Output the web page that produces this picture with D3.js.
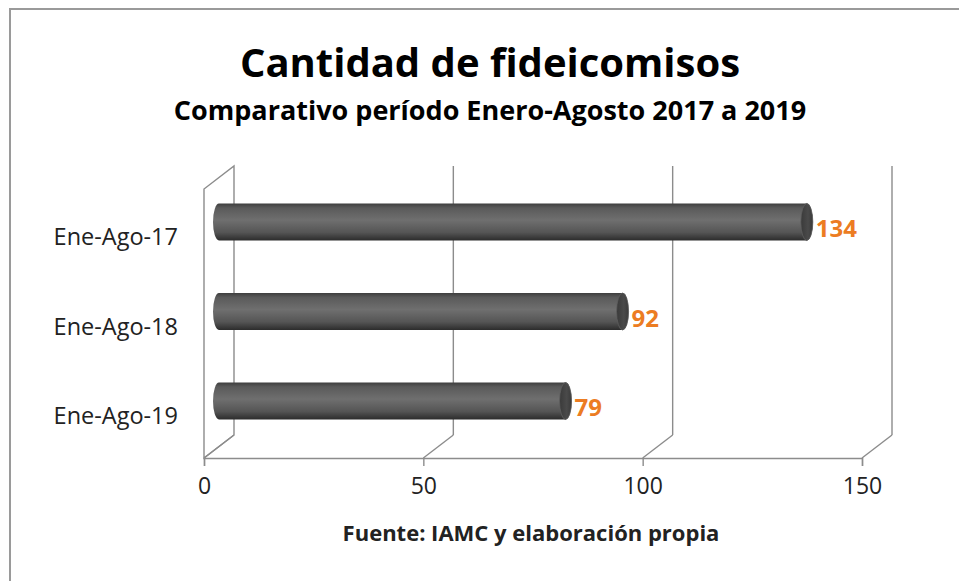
<!DOCTYPE html>
<html>
<head>
<meta charset="utf-8">
<script src="https://cdn.jsdelivr.net/npm/d3@7"></script>
<style>
  body { margin: 0; background: #fff; }
  svg { display: block; }
  text { font-family: "Open Sans", sans-serif; }
</style>
</head>
<body>
<div id="chart"></div>
<script>
// data
var categories = ["Ene-Ago-17", "Ene-Ago-18", "Ene-Ago-19"];
var values = [134, 92, 79];
var tickValues = [0, 50, 100, 150];
var title = "Cantidad de fideicomisos";
var subtitle = "Comparativo período Enero-Agosto 2017 a 2019";
var source = "Fuente: IAMC y elaboración  propia";

var W = 959, H = 581;
var depthX = 30, depthY = -23;   // 3d offset of back wall
var floorY = 458, topY = 166;
var barH = 37;

var svg = d3.select("#chart").append("svg")
    .attr("width", W)
    .attr("height", H);

var defs = svg.append("defs");
var grad = defs.append("linearGradient")
    .attr("id", "cyl")
    .attr("x1", 0).attr("y1", 0).attr("x2", 0).attr("y2", 1);
[["0%", "#3e3e3e"], ["12%", "#5a5a5a"], ["45%", "#6f6f6f"], ["78%", "#555"], ["100%", "#2c2c2c"]]
  .forEach(function(s) { grad.append("stop").attr("offset", s[0]).attr("stop-color", s[1]); });

var capGrad = defs.append("linearGradient")
    .attr("id", "cap")
    .attr("x1", 0).attr("y1", 0).attr("x2", 1).attr("y2", 0);
[["0%", "#3a3a3a"], ["60%", "#4a4a4a"], ["100%", "#3a3a3a"]]
  .forEach(function(s) { capGrad.append("stop").attr("offset", s[0]).attr("stop-color", s[1]); });

// frame (only top and left show in the crop)
svg.append("path")
    .attr("d", "M10," + H + " L10,9 L" + W + ",9")
    .attr("fill", "none")
    .attr("stroke", "#9a9a9a")
    .attr("stroke-width", 2);

// scales
var x = d3.scaleLinear()
    .domain([0, 150])
    .range([204, 862]);

var y = d3.scalePoint()
    .domain(categories)
    .range([222, 401]);

var gridColor = "#8c8c8c";
var grid = svg.append("g")
    .attr("fill", "none")
    .attr("stroke", gridColor)
    .attr("stroke-width", 1.4);

// left wall
grid.append("path")
    .attr("d", "M" + x(0) + "," + floorY + " L" + x(0) + "," + (topY - depthY) +
               " L" + (x(0) + depthX) + "," + topY + " L" + (x(0) + depthX) + "," + (floorY + depthY) +
               " Z");

// back wall gridlines
tickValues.forEach(function(t) {
  if (t === 0) return;
  grid.append("line")
    .attr("x1", x(t) + depthX).attr("x2", x(t) + depthX)
    .attr("y1", topY).attr("y2", floorY + depthY);
});

// floor diagonals
tickValues.forEach(function(t) {
  grid.append("line")
    .attr("x1", x(t)).attr("y1", floorY)
    .attr("x2", x(t) + depthX).attr("y2", floorY + depthY);
});

// front axis
var axis = svg.append("g")
    .attr("transform", "translate(0," + floorY + ")")
    .call(d3.axisBottom(x).tickValues(tickValues).tickSize(8).tickPadding(12).tickFormat(d3.format("d")));
axis.select(".domain").attr("stroke", gridColor).attr("stroke-width", 1.4);
axis.selectAll(".tick line").attr("stroke", gridColor).attr("stroke-width", 1.4);
axis.selectAll(".tick text")
    .attr("font-size", 23)
    .attr("font-family", "Open Sans, sans-serif")
    .attr("fill", "#222");

// category labels
svg.append("g").selectAll("text")
  .data(categories)
  .enter()
  .append("text")
    .attr("x", 178)
    .attr("y", function(d) { return y(d) + 15; })
    .attr("dy", "0.35em")
    .attr("text-anchor", "end")
    .attr("font-size", 23.5)
    .attr("fill", "#222")
    .text(function(d) { return d; });

// cylinders
var bx = depthX / 2, by = depthY / 2;
var rx = 6;
var bars = svg.append("g").selectAll("g")
  .data(values)
  .enter()
  .append("g");

bars.append("path")
    .attr("fill", "url(#cyl)")
    .attr("d", function(d, i) {
      var cy = y(categories[i]);
      var x0 = x(0) + bx, x1 = x(d) + bx;
      var t = cy - barH / 2, b = cy + barH / 2;
      return "M" + x0 + "," + t + " L" + x1 + "," + t +
             " A" + rx + "," + (barH / 2) + " 0 0 1 " + x1 + "," + b +
             " L" + x0 + "," + b +
             " A" + rx + "," + (barH / 2) + " 0 0 1 " + x0 + "," + t + " Z";
    });

bars.append("ellipse")
    .attr("cx", function(d) { return x(d) + bx; })
    .attr("cy", function(d, i) { return y(categories[i]); })
    .attr("rx", rx)
    .attr("ry", barH / 2)
    .attr("fill", "url(#cap)")
    .attr("stroke", "#5e5e5e")
    .attr("stroke-width", 0.8);

// value labels
bars.append("text")
    .attr("x", function(d) { return x(d) + bx + rx + 3; })
    .attr("y", function(d, i) { return y(categories[i]) + 7; })
    .attr("dy", "0.35em")
    .attr("font-size", 24)
    .attr("font-weight", "bold")
    .attr("fill", "#ec7c22")
    .text(function(d) { return d; });

// titles
svg.append("text")
    .attr("x", 490).attr("y", 77)
    .attr("text-anchor", "middle")
    .attr("font-size", 40)
    .attr("font-weight", "bold")
    .attr("fill", "#000")
    .text(title);

svg.append("text")
    .attr("x", 490).attr("y", 120)
    .attr("text-anchor", "middle")
    .attr("font-size", 27)
    .attr("font-weight", "bold")
    .attr("fill", "#000")
    .text(subtitle);

svg.append("text")
    .attr("x", 531).attr("y", 541)
    .attr("text-anchor", "middle")
    .attr("font-size", 22)
    .attr("font-weight", "bold")
    .attr("fill", "#222")
    .text(source);
</script>
</body>
</html>
